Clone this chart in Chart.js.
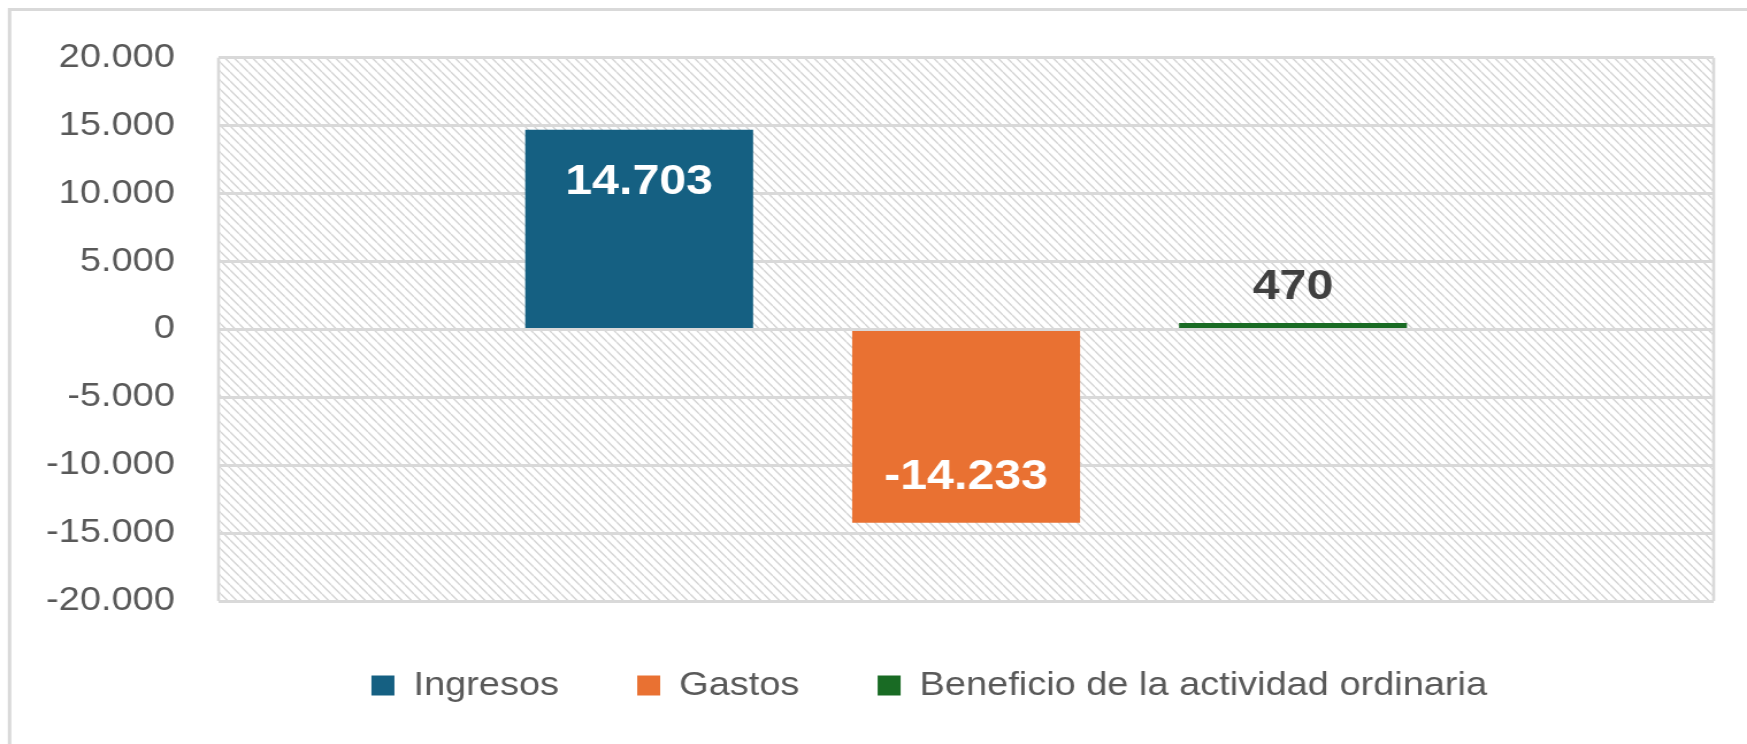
<!DOCTYPE html>
<html lang="es">
<head>
<meta charset="utf-8">
<title>Ingresos y gastos</title>
<script src="https://cdn.jsdelivr.net/npm/chart.js@4.4.1/dist/chart.umd.min.js"></script>
<style>
  html, body { margin: 0; padding: 0; background: #fff; }
</style>
</head>
<body>
<!-- the original picture is stretched sideways, so the canvas is too -->
<canvas id="grafico" width="1519" height="744" style="display:block;width:1747px;height:744px"></canvas>
<script>
const categorias = [""];
const series = ["Ingresos", "Gastos", "Beneficio de la actividad ordinaria"];
const valores = [14703, -14233, 470];
const colores = ["#156082", "#E97132", "#196B24"];
const etiquetaColor = ["#ffffff", "#ffffff", "#404040"];
const etiquetaDentro = [true, true, false];
const ticksY = [-20000, -15000, -10000, -5000, 0, 5000, 10000, 15000, 20000];

Chart.defaults.font.family = "'Liberation Sans', Arial, sans-serif";

function formato(n) {
    const s = Math.abs(n).toString().replace(/\B(?=(\d{3})+(?!\d))/g, ".");
    return (n < 0 ? "-" : "") + s;
}

function rayado(ctx) {
    const t = document.createElement("canvas");
    t.width = 8;
    t.height = 9;
    const c = t.getContext("2d");
    c.strokeStyle = "#d4d4d4";
    c.lineWidth = 1.4;
    c.beginPath();
    for (const k of [-8, 0, 8]) {
        c.moveTo(k, 0);
        c.lineTo(k + 8, 9);
    }
    c.stroke();
    return ctx.createPattern(t, "repeat");
}

// fondo blanco, marco exterior y zona de trazado rayada
const fondo = {
    id: "fondo",
    afterLayout(chart) {
        // la leyenda va algo desplazada a la derecha, como en el original
        chart.legend.left += 63;
        chart.legend.right += 63;
    },
    beforeDraw(chart) {
        const { ctx, chartArea: a, width, height } = chart;
        ctx.save();
        ctx.fillStyle = "#fff";
        ctx.fillRect(0, 0, width, height);
        ctx.strokeStyle = "#d9d9d9";
        ctx.lineWidth = 3;
        ctx.strokeRect(8.3, 9.5, width + 20, height + 20);
        ctx.fillStyle = rayado(ctx);
        ctx.fillRect(a.left, a.top, a.right - a.left, a.bottom - a.top);
        ctx.restore();
    },
    beforeDatasetsDraw(chart) {
        const { ctx, chartArea: a } = chart;
        ctx.save();
        ctx.strokeStyle = "#d9d9d9";
        ctx.lineWidth = 2.6;
        ctx.beginPath();
        ctx.moveTo(a.left, a.top);
        ctx.lineTo(a.left, a.bottom);
        ctx.moveTo(a.right, a.top);
        ctx.lineTo(a.right, a.bottom);
        ctx.stroke();
        ctx.restore();
    }
};

// etiquetas de datos
const etiquetas = {
    id: "etiquetas",
    afterDatasetsDraw(chart) {
        const { ctx } = chart;
        ctx.save();
        ctx.font = "bold 42px 'Liberation Sans', Arial, sans-serif";
        ctx.textAlign = "center";
        ctx.textBaseline = "alphabetic";
        chart.data.datasets.forEach((ds, i) => {
            const bar = chart.getDatasetMeta(i).data[0];
            const v = ds.data[0];
            const dir = v >= 0 ? 1 : -1;
            const centro = etiquetaDentro[i] ? bar.y + dir * 49 : bar.y - dir * 39;
            ctx.fillStyle = etiquetaColor[i];
            ctx.fillText(formato(v), bar.x, centro + 15);
        });
        ctx.restore();
    }
};

new Chart(document.getElementById("grafico"), {
    type: "bar",
    data: {
        labels: categorias,
        datasets: series.map((s, i) => ({
            label: s,
            data: [valores[i]],
            backgroundColor: colores[i],
            borderWidth: 0
        }))
    },
    options: {
        responsive: false,
        animation: false,
        devicePixelRatio: 1,
        layout: { padding: { left: 0, right: 29, top: 57, bottom: 32 } },
        datasets: { bar: { categoryPercentage: 0.656, barPercentage: 0.697 } },
        scales: {
            x: { display: false },
            y: {
                min: ticksY[0],
                max: ticksY[ticksY.length - 1],
                afterBuildTicks(axis) { axis.ticks = ticksY.map(v => ({ value: v })); },
                afterFit(axis) { axis.width = 190; },
                grid: { color: "#d9d9d9", lineWidth: 3, drawTicks: false },
                border: { display: false },
                ticks: { padding: 38, color: "#595959", font: { size: 33 }, callback: v => formato(v) }
            }
        },
        plugins: {
            legend: {
                position: "bottom",
                labels: { boxWidth: 20, boxHeight: 20, padding: 68, color: "#595959", font: { size: 33 } }
            },
            tooltip: { enabled: false }
        }
    },
    plugins: [fondo, etiquetas]
});
</script>
</body>
</html>
